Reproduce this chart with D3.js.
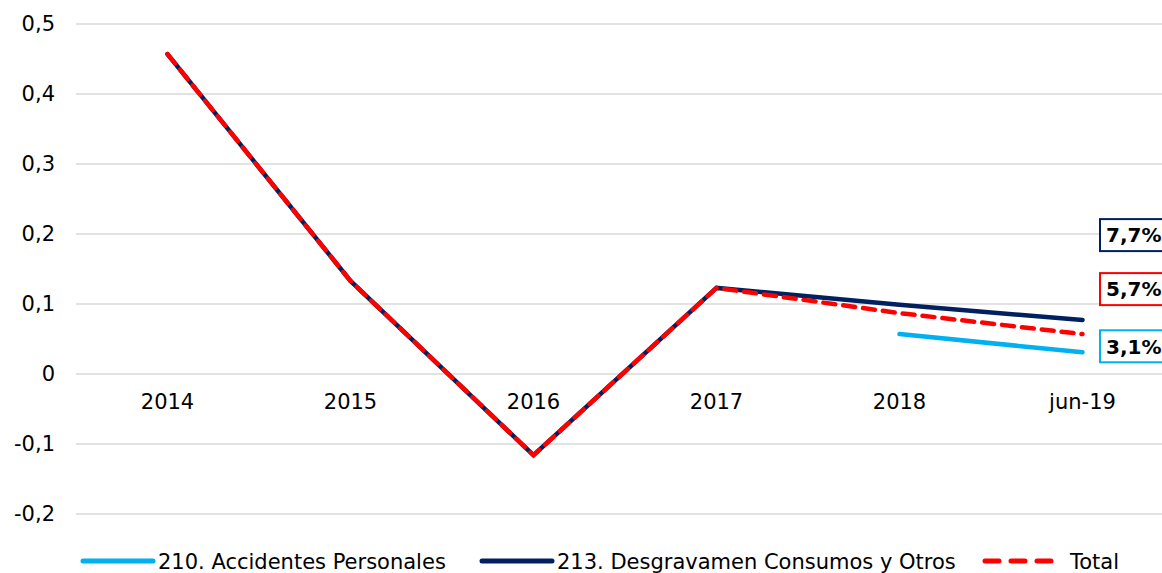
<!DOCTYPE html>
<html>
<head>
<meta charset="utf-8">
<script src="https://cdn.jsdelivr.net/npm/d3@7"></script>
<style>
  body { margin: 0; background: #fff; }
  svg { display: block; font-family: "DejaVu Sans", Verdana, sans-serif; }
</style>
</head>
<body>
<script>
// chart values
var years = ["2014", "2015", "2016", "2017", "2018", "jun-19"];
var accidentes = [null, null, null, null, 0.057, 0.031];
var desgravamen = [0.457, 0.133, -0.116, 0.123, 0.099, 0.077];
var total = [0.457, 0.133, -0.116, 0.123, 0.087, 0.057];
var yTicks = [-0.2, -0.1, 0, 0.1, 0.2, 0.3, 0.4, 0.5];
var endLabels = ["3,1%", "7,7%", "5,7%"];
var seriesNames = ["210. Accidentes Personales", "213. Desgravamen Consumos y Otros", "Total"];

var width = 1162, height = 573;

var svg = d3.select("body").append("svg")
    .attr("width", width)
    .attr("height", height);

var x = d3.scaleBand().domain(years).range([76, 1174]);
var y = d3.scaleLinear().domain([-0.2, 0.5]).range([514, 24]);
var cx = function(d, i) { return x(years[i]) + x.bandwidth() / 2; };

// gridlines
svg.append("g").selectAll("line")
    .data(yTicks)
    .enter().append("line")
    .attr("x1", 76).attr("x2", 1174)
    .attr("y1", function(d) { return y(d); })
    .attr("y2", function(d) { return y(d); })
    .attr("stroke", "#d9d9d9")
    .attr("stroke-width", 1.5);

// y tick labels
var fmt = function(d) { return d === 0 ? "0" : d3.format(".1f")(d).replace(".", ",").replace("−", "-"); };
svg.append("g").selectAll("text")
    .data(yTicks)
    .enter().append("text")
    .attr("x", 55)
    .attr("y", function(d) { return y(d); })
    .attr("dy", "0.35em")
    .attr("text-anchor", "end")
    .attr("font-size", 21)
    .attr("fill", "#000")
    .text(fmt);

// category labels sit under the zero line
svg.append("g").selectAll("text")
    .data(years)
    .enter().append("text")
    .attr("x", function(d) { return x(d) + x.bandwidth() / 2; })
    .attr("y", y(0) + 35)
    .attr("text-anchor", "middle")
    .attr("font-size", 21)
    .attr("fill", "#000")
    .text(function(d) { return d; });

var line = d3.line()
    .defined(function(d) { return d !== null; })
    .x(cx)
    .y(function(d) { return y(d); });

var series = [
    { values: accidentes, color: "#00b0f0", dash: null },
    { values: desgravamen, color: "#002060", dash: null },
    { values: total, color: "#ff0000", dash: "12,8" }
];

series.forEach(function(s) {
    svg.append("path")
        .datum(s.values)
        .attr("d", line)
        .attr("fill", "none")
        .attr("stroke", s.color)
        .attr("stroke-width", 4.5)
        .attr("stroke-linecap", "round")
        .attr("stroke-dasharray", s.dash);
});

// end-point labels in boxes
var last = years.length - 1;
var labelShift = [-6, -85, -45];
series.forEach(function(s, i) {
    var cyv = y(s.values[last]) + labelShift[i];
    var g = svg.append("g");
    g.append("rect")
        .attr("x", 1100).attr("y", cyv - 16)
        .attr("width", 80).attr("height", 32)
        .attr("fill", "#fff")
        .attr("stroke", s.color)
        .attr("stroke-width", 2);
    g.append("text")
        .attr("x", 1106).attr("y", cyv)
        .attr("dy", "0.36em")
        .attr("font-size", 20)
        .attr("font-weight", "bold")
        .attr("fill", "#000")
        .text(endLabels[i]);
});

// legend
var legendX = [83, 482, 985];
var legendY = 561;
var legend = svg.append("g");
series.forEach(function(s, i) {
    legend.append("line")
        .attr("x1", legendX[i]).attr("x2", legendX[i] + 70)
        .attr("y1", legendY).attr("y2", legendY)
        .attr("stroke", s.color)
        .attr("stroke-width", 5)
        .attr("stroke-linecap", "round")
        .attr("stroke-dasharray", s.dash ? "14,12" : null);
    legend.append("text")
        .attr("x", legendX[i] + (s.dash ? 85 : 75))
        .attr("y", legendY)
        .attr("dy", "0.36em")
        .attr("font-size", 21)
        .attr("fill", "#000")
        .text(seriesNames[i]);
});
</script>
</body>
</html>
